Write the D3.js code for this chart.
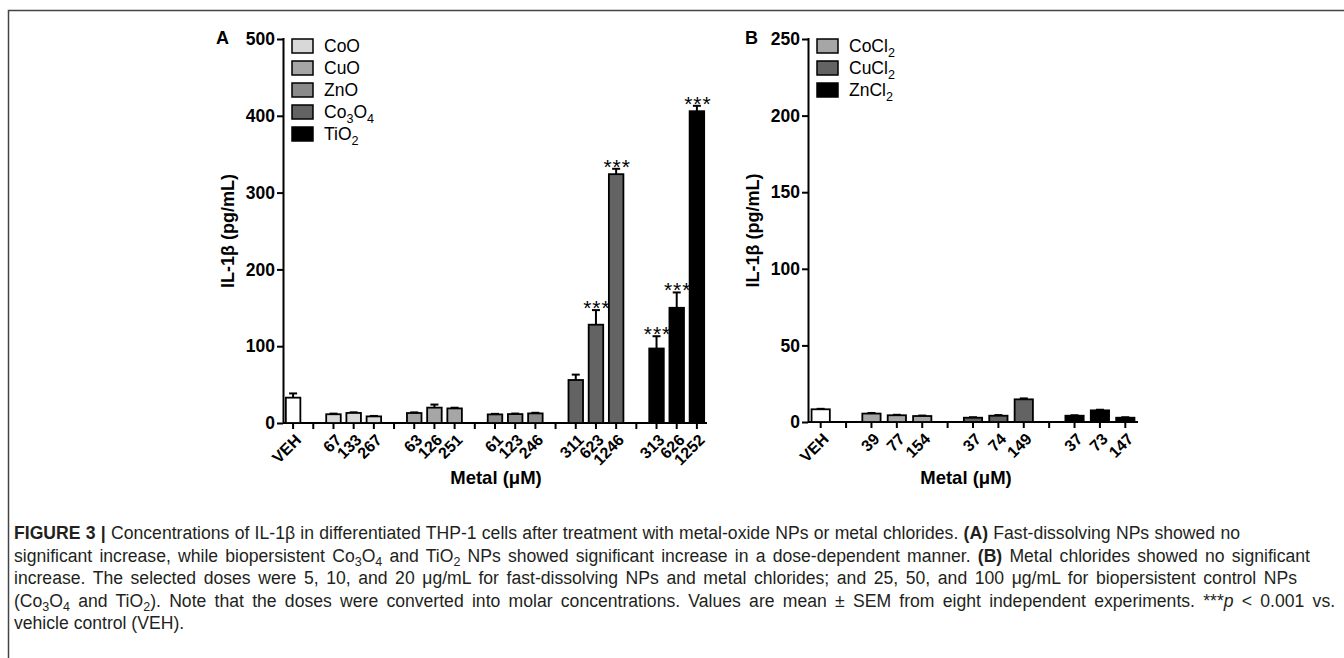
<!DOCTYPE html>
<html>
<head>
<meta charset="utf-8">
<script src="https://cdn.jsdelivr.net/npm/d3@7"></script>
<style>
  body { margin: 0; background: #fff; }
  svg { display: block; font-family: "Liberation Sans", Arial, sans-serif; }
</style>
</head>
<body>
<svg id="fig" width="1344" height="658"></svg>
<script>
// ---- data ----
// panel A: metal-oxide NPs
const labelsA = ["VEH", "", "67", "133", "267", "", "63", "126", "251", "", "61", "123", "246", "", "311", "623", "1246", "", "313", "626", "1252"];
const groupA  = ["VEH", "", "CoO", "CoO", "CoO", "", "CuO", "CuO", "CuO", "", "ZnO", "ZnO", "ZnO", "", "Co3O4", "Co3O4", "Co3O4", "", "TiO2", "TiO2", "TiO2"];
const meanA   = [33, null, 11.4, 13.1, 8.6, null, 13, 20, 19, null, 11.2, 11.6, 12.5, null, 56, 128, 324, null, 97, 150, 406];
const semA    = [5.5, null, 0.8, 0.8, 0.6, null, 0.8, 4, 0.9, null, 0.7, 0.7, 0.8, null, 7, 19, 7, null, 16, 20, 7];
const sigA    = [false, false, false, false, false, false, false, false, false, false, false, false, false, false, false, true, true, false, true, true, true];
const legendA = ["CoO", "CuO", "ZnO", "Co3O4", "TiO2"];
const ticksA  = [0, 100, 200, 300, 400, 500];

// panel B: metal chlorides
const labelsB = ["VEH", "", "39", "77", "154", "", "37", "74", "149", "", "37", "73", "147"];
const groupB  = ["VEH", "", "CoCl2", "CoCl2", "CoCl2", "", "CuCl2", "CuCl2", "CuCl2", "", "ZnCl2", "ZnCl2", "ZnCl2"];
const meanB   = [8.3, null, 5.5, 4.4, 3.9, null, 2.8, 4.1, 14.8, null, 4.1, 7.6, 2.8];
const semB    = [0.3, null, 0.4, 0.3, 0.3, null, 0.3, 0.4, 0.6, null, 0.3, 0.4, 0.3];
const sigB    = labelsB.map(() => false);
const legendB = ["CoCl2", "CuCl2", "ZnCl2"];
const ticksB  = [0, 50, 100, 150, 200, 250];

const fills = {
    "VEH": "#ffffff",
    "CoO": "#d8d8d8",
    "CuO": "#a6a6a6",
    "ZnO": "#8a8a8a",
    "Co3O4": "#636363",
    "TiO2": "#000000",
    "CoCl2": "#a6a6a6",
    "CuCl2": "#636363",
    "ZnCl2": "#000000"
};

const svg = d3.select("#fig");

// figure frame
svg.append("path")
    .attr("d", "M8.5,658 L8.5,10.5 L1344,10.5")
    .attr("fill", "none")
    .attr("stroke", "#444")
    .attr("stroke-width", 1.5);

// write chemical names with subscript digits
function chemText(sel, name, size) {
    const parts = name.match(/[A-Za-z]+|\d+/g);
    let sub = false;
    parts.forEach(p => {
        const isNum = /^\d+$/.test(p);
        const t = sel.append("tspan").text(p);
        if (isNum && !sub) { t.attr("dy", size * 0.3).attr("font-size", size * 0.72); sub = true; }
        else if (isNum) { t.attr("font-size", size * 0.72); }
        else if (sub) { t.attr("dy", -size * 0.3); sub = false; }
    });
}

function drawPanel(cfg) {
    const g = svg.append("g");
    const x = d3.scaleBand()
        .domain(d3.range(cfg.labels.length))
        .range([cfg.x0, cfg.x1])
        .paddingInner(0.28)
        .paddingOuter(0.14);
    const slot = d3.scaleBand().domain(d3.range(cfg.labels.length)).range([cfg.x0, cfg.x1]);
    const y = d3.scaleLinear().domain([0, cfg.ymax]).range([cfg.y0, cfg.y1]);

    // y axis
    const yAxis = g.append("g")
        .attr("transform", `translate(${cfg.x0},0)`)
        .call(d3.axisLeft(y).tickValues(cfg.ticks).tickSize(6).tickSizeOuter(0).tickPadding(2));
    yAxis.select(".domain").attr("stroke-width", 2).attr("d", `M0.5,${cfg.y1 - 1}V${cfg.y0 + 1}`);
    yAxis.selectAll(".tick line").attr("stroke-width", 2);
    yAxis.selectAll(".tick text")
        .attr("font-size", 17.5).attr("font-weight", "bold").attr("fill", "#000")
        .attr("font-family", "Liberation Sans, Arial, sans-serif");

    // x axis baseline with ticks for every slot
    g.append("line")
        .attr("x1", cfg.x0).attr("x2", cfg.x1)
        .attr("y1", cfg.y0).attr("y2", cfg.y0)
        .attr("stroke", "#000").attr("stroke-width", 2);
    g.selectAll(".xtick")
        .data(cfg.labels)
        .enter().append("line")
        .attr("x1", (d, i) => slot(i) + slot.bandwidth() / 2)
        .attr("x2", (d, i) => slot(i) + slot.bandwidth() / 2)
        .attr("y1", cfg.y0).attr("y2", cfg.y0 + 6)
        .attr("stroke", "#000").attr("stroke-width", 2);

    g.selectAll(".xlabel")
        .data(cfg.labels)
        .enter().append("text")
        .attr("transform", (d, i) => `translate(${slot(i) + slot.bandwidth() / 2 + 5},${cfg.y0 + 14}) rotate(-45)`)
        .attr("text-anchor", "end")
        .attr("dy", "0.35em")
        .attr("font-size", 16)
        .attr("font-weight", "bold")
        .text(d => d);

    const idx = d3.range(cfg.labels.length).filter(i => cfg.mean[i] != null);

    // error bars (upper only)
    idx.forEach(i => {
        const cx = slot(i) + slot.bandwidth() / 2;
        const top = y(cfg.mean[i] + cfg.sem[i]);
        g.append("line")
            .attr("x1", cx).attr("x2", cx)
            .attr("y1", y(cfg.mean[i])).attr("y2", top)
            .attr("stroke", "#000").attr("stroke-width", 2);
        g.append("line")
            .attr("x1", cx - 4).attr("x2", cx + 4)
            .attr("y1", top).attr("y2", top)
            .attr("stroke", "#000").attr("stroke-width", 2);
        if (cfg.sig[i]) {
            g.append("text")
                .attr("x", cx + 1).attr("y", top + 5)
                .attr("text-anchor", "middle")
                .attr("font-size", 21)
                .attr("letter-spacing", 1)
                .text("***");
        }
    });

    g.selectAll(".bar")
        .data(idx)
        .enter().append("rect")
        .attr("x", i => slot(i) + slot.bandwidth() / 2 - x.bandwidth() / 2)
        .attr("width", x.bandwidth())
        .attr("y", i => y(cfg.mean[i]))
        .attr("height", i => cfg.y0 - y(cfg.mean[i]))
        .attr("fill", i => fills[cfg.group[i]])
        .attr("stroke", "#000")
        .attr("stroke-width", 1.8);

    // panel letter
    g.append("text")
        .attr("x", cfg.letterX).attr("y", 44)
        .attr("font-size", 18).attr("font-weight", "bold")
        .text(cfg.letter);

    // y title
    g.append("text")
        .attr("transform", `translate(${cfg.x0 - 49},${(cfg.y0 + cfg.y1) / 2}) rotate(-90)`)
        .attr("text-anchor", "middle")
        .attr("font-size", 18).attr("font-weight", "bold")
        .text("IL-1β (pg/mL)");

    // x title
    g.append("text")
        .attr("x", cfg.titleX).attr("y", 484)
        .attr("text-anchor", "middle")
        .attr("font-size", 18.5).attr("font-weight", "bold")
        .text("Metal (μM)");

    // legend
    const leg = g.selectAll(".leg")
        .data(cfg.legend)
        .enter().append("g")
        .attr("transform", (d, i) => `translate(${cfg.x0 + 9},${46 + i * 22})`);
    leg.append("rect")
        .attr("x", 0).attr("y", -7)
        .attr("width", 21).attr("height", 14)
        .attr("fill", d => fills[d])
        .attr("stroke", "#000").attr("stroke-width", 1.5);
    leg.append("text")
        .attr("x", 32).attr("y", 6)
        .attr("font-size", 17.5)
        .each(function (d) { chemText(d3.select(this), d, 17.5); });
}

drawPanel({
    labels: labelsA, group: groupA, mean: meanA, sem: semA, sig: sigA,
    legend: legendA, ticks: ticksA, ymax: 500,
    x0: 283, x1: 707, y0: 423, y1: 39,
    letter: "A", letterX: 216, titleX: 496
});

drawPanel({
    labels: labelsB, group: groupB, mean: meanB, sem: semB, sig: sigB,
    legend: legendB, ticks: ticksB, ymax: 250,
    x0: 808, x1: 1138, y0: 422, y1: 39,
    letter: "B", letterX: 745, titleX: 966
});

// caption
const caption = [
    [["FIGURE 3 |", "b"], [" Concentrations of IL-1β in differentiated THP-1 cells after treatment with metal-oxide NPs or metal chlorides. "], ["(A)", "b"], [" Fast-dissolving NPs showed no"]],
    [["significant increase, while biopersistent Co"], ["3", "sub"], ["O"], ["4", "sub"], [" and TiO"], ["2", "sub"], [" NPs showed significant increase in a dose-dependent manner. "], ["(B)", "b"], [" Metal chlorides showed no significant"]],
    [["increase. The selected doses were 5, 10, and 20 μg/mL for fast-dissolving NPs and metal chlorides; and 25, 50, and 100 μg/mL for biopersistent control NPs"]],
    [["(Co"], ["3", "sub"], ["O"], ["4", "sub"], [" and TiO"], ["2", "sub"], ["). Note that the doses were converted into molar concentrations. Values are mean ± SEM from eight independent experiments. ***"], ["p", "i"], [" < 0.001 vs."]],
    [["vehicle control (VEH)."]]
];
const captionEnds = [1240, 1310, 1297, 1335, null];

const cap = svg.append("g").attr("fill", "#231f20");
caption.forEach((line, li) => {
    const t = cap.append("text")
        .attr("x", 14).attr("y", 539 + li * 22.5)
        .attr("font-size", 17.6);
    let down = false;
    line.forEach(([s, st]) => {
        const sp = t.append("tspan").text(s);
        if (st === "b") sp.attr("font-weight", "bold");
        if (st === "i") sp.attr("font-style", "italic");
        if (st === "sub") {
            sp.attr("font-size", 12.5);
            if (!down) { sp.attr("dy", 4); down = true; }
        } else if (down) {
            sp.attr("dy", -4); down = false;
        }
    });
    // justified setting: spread the extra room over the word gaps
    if (captionEnds[li]) {
        const natural = t.node().getComputedTextLength();
        const gaps = line.map(d => d[0]).join("").split(" ").length - 1;
        const extra = (captionEnds[li] - 14 - natural) / gaps;
        t.attr("word-spacing", Math.max(0, extra).toFixed(2));
    }
});
</script>
</body>
</html>
